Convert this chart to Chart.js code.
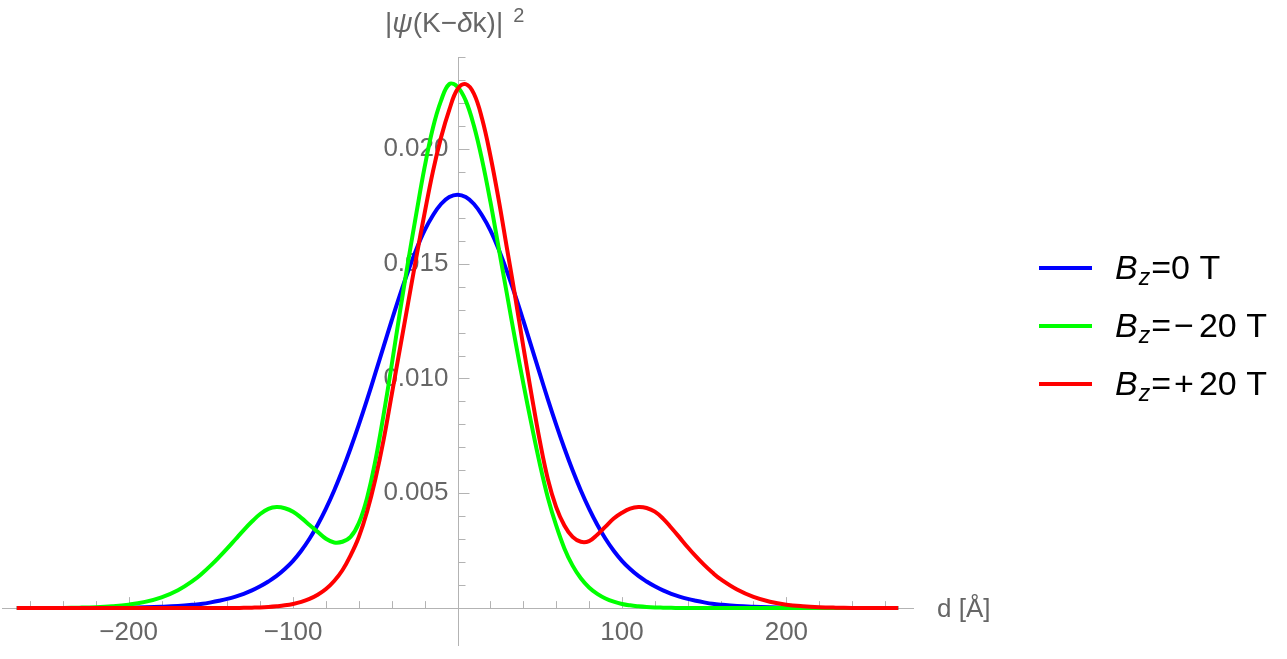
<!DOCTYPE html>
<html>
<head>
<meta charset="utf-8">
<script src="https://cdn.jsdelivr.net/npm/chart.js@4.4.0/dist/chart.umd.min.js"></script>
<style>
  html, body { margin: 0; padding: 0; background: #fff; }
  #wrap { width: 1287px; height: 659px; position: relative; }
</style>
</head>
<body>
<div id="wrap"><canvas id="grafico"></canvas></div>
<script>
// posicoes d [Å] (passo 5 no miolo, 10 nas caudas)
const posicoesD = [-268, -260, -250, -240, -230, -220, -210, -200, -190, -180, -170,
  -160, -155, -150, -145, -140, -135, -130, -125, -120, -115, -110, -105, -100, -95, -90, -85,
  -80, -75, -70, -65, -60, -55, -50, -45, -40, -35, -30, -25, -20, -15, -10, -5,
  0, 5, 10, 15, 20, 25, 30, 35, 40, 45, 50, 55, 60, 65, 70, 75, 80,
  85, 90, 95, 100, 105, 110, 115, 120, 125, 130, 135, 140, 145, 150, 155, 160,
  170, 180, 190, 200, 210, 220, 230, 240, 250, 260, 268]

// |psi|^2 para Bz = 0 T
const psiB0 = [0, 0, 0.000001, 0.000002, 0.000004, 0.000007, 0.000012, 0.00002, 0.000033, 0.000055, 0.00009,
  0.00015, 0.00019, 0.00025, 0.00032, 0.0004, 0.0005, 0.00062, 0.00077, 0.00095, 0.00116, 0.0014, 0.0017, 0.00206, 0.0025, 0.00302, 0.00363,
  0.00433, 0.00512, 0.006, 0.00696, 0.00799, 0.00908, 0.01022, 0.01138, 0.01253, 0.01364, 0.01468, 0.01563, 0.01645, 0.0171, 0.0176, 0.0179,
  0.0180, 0.0179, 0.0176, 0.0171, 0.01645, 0.01563, 0.01468, 0.01364, 0.01253, 0.01138, 0.01022, 0.00908, 0.00799, 0.00696, 0.006, 0.00512, 0.00433,
  0.00363, 0.00302, 0.0025, 0.00206, 0.0017, 0.0014, 0.00116, 0.00095, 0.00077, 0.00062, 0.0005, 0.0004, 0.00032, 0.00025, 0.00019, 0.00015,
  0.00009, 0.000055, 0.000033, 0.00002, 0.000012, 0.000007, 0.000004, 0.000002, 0.000001, 0, 0]

// Bz = -20 T
const psiMenos20 = [0, 0, 0.000005, 0.00001, 0.00002, 0.00004, 0.00008, 0.00015, 0.00027, 0.00047, 0.00078,
  0.00124, 0.00153, 0.00186, 0.00222, 0.0026, 0.003, 0.0034, 0.00377, 0.0041, 0.00432, 0.0044, 0.00435, 0.0042, 0.00393, 0.00362, 0.00332,
  0.00302, 0.00286, 0.00289, 0.0031, 0.0037, 0.0048, 0.0064, 0.0084, 0.0106, 0.0129, 0.0151, 0.0172, 0.0192, 0.0209, 0.0221, 0.02282,
  0.0227, 0.0221, 0.0210, 0.0195, 0.0177, 0.0157, 0.0137, 0.0117, 0.0098, 0.0080, 0.0063, 0.0048, 0.0036, 0.0026, 0.00185, 0.0013, 0.0009,
  0.00062, 0.00042, 0.00028, 0.00018, 0.00012, 0.00008, 0.00005, 0.00003, 0.00002, 0.000012, 0.000008, 0.000005, 0.000003, 0.000002, 0.000001, 0,
  0, 0, 0, 0, 0, 0, 0, 0, 0, 0, 0]

// Bz = +20 T
const psiMais20 = [0, 0, 0, 0, 0, 0, 0, 0, 0, 0, 0,
  0, 0.000001, 0.000002, 0.000003, 0.000005, 0.000008, 0.000012, 0.00002, 0.00003, 0.00005, 0.00008, 0.00012, 0.00018, 0.00027, 0.0004, 0.00058,
  0.00083, 0.00118, 0.00165, 0.0023, 0.0031, 0.0042, 0.0056, 0.0073, 0.0093, 0.0113, 0.0133, 0.0153, 0.0172, 0.0190, 0.0205, 0.0217,
  0.0226, 0.02282, 0.0224, 0.0213, 0.0197, 0.0178, 0.0157, 0.0136, 0.0114, 0.0093, 0.0073, 0.0056, 0.0044, 0.0036, 0.0031, 0.00289, 0.00292,
  0.0032, 0.00355, 0.0039, 0.00415, 0.00433, 0.0044, 0.00436, 0.0042, 0.0039, 0.0035, 0.00308, 0.00265, 0.00225, 0.00188, 0.00155, 0.00126,
  0.00081, 0.00049, 0.00028, 0.00015, 0.00008, 0.00004, 0.00002, 0.00001, 0.000005, 0, 0]

const ticksX = [-200, -100, 100, 200]
const ticksY = [0.005, 0.010, 0.015, 0.020]
const menoresX = [-260, -240, -220, -200, -180, -160, -140, -120, -100, -80, -60, -40, -20,
  20, 40, 60, 80, 100, 120, 140, 160, 180, 200, 220, 240, 260]
const menoresY = [0.001, 0.002, 0.003, 0.004, 0.005, 0.006, 0.007, 0.008, 0.009, 0.010, 0.011, 0.012,
  0.013, 0.014, 0.015, 0.016, 0.017, 0.018, 0.019, 0.020, 0.021, 0.022, 0.023, 0.024]

const nomesSerie = ['=0 T', '=\u221220 T', '=+20 T']
const coresSerie = ['#0000ff', '#00ff00', '#ff0000']

const cinzaEixo = '#b3b3b3'
const cinzaTexto = '#666666'
const fonte = "'Liberation Sans', Arial, sans-serif"

const montaSerie = (valores) => posicoesD.map((d, i) => ({ x: d, y: valores[i] }))

// eixo y e marcas dos eixos (para dentro, estilo Mathematica)
const marcasEixos = {
  id: 'marcasEixos',
  beforeDatasetsDraw(chart) {
    const { ctx, chartArea, scales: { x, y } } = chart
    const x0 = Math.round(x.getPixelForValue(0)) + 0.5
    const y0 = y.getPixelForValue(0)
    ctx.save()
    ctx.strokeStyle = cinzaEixo
    ctx.lineWidth = 1
    ctx.beginPath()
    ctx.moveTo(x0, chartArea.top)
    ctx.lineTo(x0, chartArea.bottom)
    menoresX.forEach(v => {
      const px = Math.round(x.getPixelForValue(v)) + 0.5
      const len = ticksX.includes(v) ? 11 : 7
      ctx.moveTo(px, y0)
      ctx.lineTo(px, y0 - len)
    })
    menoresY.forEach(v => {
      const py = Math.round(y.getPixelForValue(v)) + 0.5
      const len = ticksY.some(t => Math.abs(t - v) < 1e-9) ? 11 : 7
      ctx.moveTo(x0, py)
      ctx.lineTo(x0 + len, py)
    })
    ctx.stroke()
    ctx.restore()
  },
  afterDraw(chart) {
    const { ctx, scales: { y } } = chart
    const y0 = y.getPixelForValue(0)
    ctx.save()
    ctx.fillStyle = cinzaTexto
    ctx.textBaseline = 'alphabetic'
    ctx.textAlign = 'left'

    // titulo do eixo y: |psi(K-dk)|^2
    let cx = 385
    const partes = [['|', ''], ['\u03c8', 'italic '], ['(K\u2212', ''], ['\u03b4', 'italic '], ['k)|', '']]
    partes.forEach(([t, estilo]) => {
      ctx.font = estilo + '28px ' + fonte
      ctx.fillText(t, cx, 32)
      cx += ctx.measureText(t).width
    })
    ctx.font = '20px ' + fonte
    ctx.fillText('2', cx + 10, 22)

    // titulo do eixo x
    ctx.font = '26px ' + fonte
    ctx.fillText('d [\u00c5]', 937, y0 + 9)

    // legenda
    chart.data.datasets.forEach((ds, i) => {
      const ly = 268 + i * 58
      ctx.strokeStyle = ds.borderColor
      ctx.lineWidth = 4
      ctx.beginPath()
      ctx.moveTo(1039, ly)
      ctx.lineTo(1092, ly)
      ctx.stroke()
      ctx.fillStyle = '#000'
      let tx = 1115
      ctx.font = 'italic 34px ' + fonte
      ctx.fillText('B', tx, ly + 11)
      tx += ctx.measureText('B').width + 1
      ctx.font = 'italic 23px ' + fonte
      ctx.fillText('z', tx, ly + 17)
      tx += ctx.measureText('z').width + 1
      ctx.font = '34px ' + fonte
      for (const ch of nomesSerie[i]) {
        const sinal = ch === '\u2212' || ch === '+'
        if (sinal) tx += 3
        ctx.fillText(ch, tx, ly + 11)
        tx += ctx.measureText(ch).width + (sinal ? 5 : 0)
      }
    })
    ctx.restore()
  }
}

new Chart(document.getElementById('grafico'), {
  type: 'line',
  data: {
    datasets: [
      { label: 'Bz=0 T', data: montaSerie(psiB0), borderColor: coresSerie[0], order: 3 },
      { label: 'Bz=-20 T', data: montaSerie(psiMenos20), borderColor: coresSerie[1], order: 2 },
      { label: 'Bz=+20 T', data: montaSerie(psiMais20), borderColor: coresSerie[2], order: 1 }
    ]
  },
  options: {
    responsive: true,
    maintainAspectRatio: false,
    animation: false,
    layout: { padding: { left: 2, right: 374, top: 57, bottom: 13 } },
    elements: {
      point: { radius: 0 },
      line: { borderWidth: 4, tension: 0.4, fill: false }
    },
    plugins: { legend: { display: false }, tooltip: { enabled: false } },
    scales: {
      x: {
        type: 'linear', min: -277, max: 277,
        position: { y: 0 },
        grid: { display: false },
        border: { color: cinzaEixo, width: 1 },
        afterBuildTicks: (s) => { s.ticks = ticksX.map(v => ({ value: v })) },
        ticks: {
          font: { family: fonte, size: 26 }, color: cinzaTexto, padding: 1,
          maxRotation: 0, autoSkip: false,
          callback: (v) => String(v).replace('-', '\u2212')
        }
      },
      y: {
        type: 'linear', min: -0.00165, max: 0.024,
        // rotulos a 9px a esquerda do eixo; a linha do eixo vem do plugin
        position: { x: -5.5 },
        grid: { display: false },
        border: { display: false },
        afterBuildTicks: (s) => { s.ticks = ticksY.map(v => ({ value: v })) },
        ticks: {
          font: { family: fonte, size: 26, lineHeight: 1 }, color: cinzaTexto,
          padding: 0, autoSkip: false,
          callback: (v) => v.toFixed(3)
        }
      }
    }
  },
  plugins: [marcasEixos]
})
</script>
</body>
</html>
